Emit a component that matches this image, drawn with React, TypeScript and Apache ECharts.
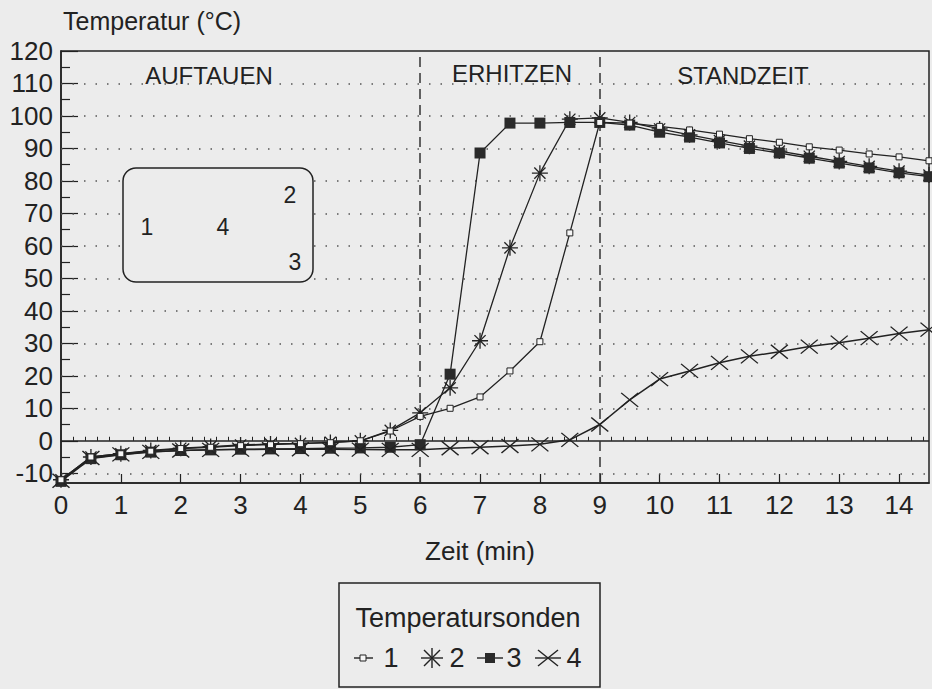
import React, { useEffect, useRef } from "react";
import * as echarts from "echarts";

const FONT = "'Liberation Sans', Arial, Helvetica, sans-serif";
const INK = "#222";
const BG = "#ececec";

const times = [0, 0.5, 1, 1.5, 2, 2.5, 3, 3.5, 4, 4.5, 5, 5.5, 6, 6.5, 7, 7.5, 8, 8.5, 9, 9.5, 10, 10.5, 11, 11.5, 12, 12.5, 13, 13.5, 14, 14.5];

const sonde1 = [-12, -5, -4, -3.2, -2.4, -2, -1.5, -1.2, -0.9, -0.6, 0, 3, 7.5, 10, 13.5, 21.5, 30.5, 64, 98, 97.8, 96.8, 95.7, 94.4, 93, 91.9, 90.5, 89.5, 88.3, 87.4, 86.2];
const sonde2 = [-12, -5, -4, -3, -2.3, -1.8, -1.3, -1, -0.8, -0.5, 0, 3.2, 8.6, 16.3, 30.8, 59.4, 82.4, 99, 99.4, 98, 96, 94.2, 92.4, 90.7, 89.2, 87.6, 86, 84.5, 83, 81.8];
const sonde3 = [-12.5, -5.5, -4.3, -3.5, -3, -2.8, -2.6, -2.5, -2.4, -2.3, -2.2, -2, -1.2, 20.5, 88.6, 97.8, 97.8, 98, 98, 97.2, 95, 93.5, 91.7, 90, 88.6, 87, 85.5, 84, 82.5, 81.3];
const sonde4 = [-12.3, -5.3, -4.2, -3.4, -3, -2.8, -2.7, -2.6, -2.6, -2.6, -2.7, -2.8, -2.8, -2.3, -2, -1.6, -1.1, 0.3, 5, 12.6, 19, 21.5, 24, 26, 27.4, 29, 30.2, 31.6, 33, 34.2];

const yLabels = [-10, 0, 10, 20, 30, 40, 50, 60, 70, 80, 90, 100, 110, 120];
const yMinor = [-5, 5, 15, 25, 35, 45, 55, 65, 75, 85, 95, 105, 115];
const xLabels = [0, 1, 2, 3, 4, 5, 6, 7, 8, 9, 10, 11, 12, 13, 14];
const dottedLevels = [-10, 10, 20, 30, 40, 50, 60, 70, 80, 90, 100, 110];
const phaseBounds = [6, 9];
const phaseNames = ["AUFTAUEN", "ERHITZEN", "STANDZEIT"];
const sensorLabels = ["1", "2", "3", "4"];

const xMinor: number[] = [];
for (let k = 1; k <= 72; k++) {
  if (k % 5 !== 0) xMinor.push(Math.round(k * 0.2 * 10) / 10);
}

const ASTER = "path://M0,5 L10,5 M5,0 L5,10 M1.5,1.5 L8.5,8.5 M8.5,1.5 L1.5,8.5";
const CROSS = "path://M0,0 L10,10 M10,0 L0,10";

export default function App() {
  const ref = useRef<HTMLDivElement>(null);
  useEffect(() => {
    document.body.style.margin = "0";
    document.body.style.background = BG;
    if (!ref.current) return;
    const chart = echarts.init(ref.current, undefined, { renderer: "svg" });
    const mk = (arr: number[]) => times.map((t, i) => [t, arr[i]]);
    const lineStyle = { color: INK, width: 1.3 };
    const markData: any[] = [
      ...dottedLevels.map((v) => ({ yAxis: v, lineStyle: { type: [1.5, 10], color: "#555", width: 1.5 } })),
      { yAxis: 0, lineStyle: { type: "solid", color: INK, width: 1.5 } },
      ...phaseBounds.map((v) => ({ xAxis: v, lineStyle: { type: [10, 6], color: "#333", width: 1.5 } })),
    ];
    const legendY = 658;
    const txt = (x: number, y: number, text: string, size: number, z = 101) => ({
      type: "text", z, x, y,
      style: { text, font: `${size}px ${FONT}`, fill: INK, align: "center", verticalAlign: "middle" },
    });
    const ln = (x1: number, y1: number, x2: number, y2: number) => ({
      type: "line", z: 101, shape: { x1, y1, x2, y2 }, style: { stroke: INK, lineWidth: 1.4 },
    });
    const g: any[] = [
      { type: "text", left: 63, top: 8, style: { text: "Temperatur (°C)", font: `25px ${FONT}`, fill: INK } },
      txt(209, 75, phaseNames[0], 24),
      txt(512, 73, phaseNames[1], 24),
      txt(743, 75, phaseNames[2], 24),
      txt(480, 551, "Zeit (min)", 26),
      { type: "rect", z: 100, shape: { x: 123, y: 168, width: 190, height: 114, r: 13 }, style: { fill: BG, stroke: INK, lineWidth: 1.5 } },
      txt(147, 227, sensorLabels[0], 23),
      txt(290, 195, sensorLabels[1], 23),
      txt(295, 262, sensorLabels[2], 23),
      txt(223, 227, sensorLabels[3], 23),
      // legend box
      { type: "rect", z: 100, shape: { x: 339, y: 583, width: 261, height: 104 }, style: { fill: BG, stroke: INK, lineWidth: 1.5 } },
      txt(468, 618, "Temperatursonden", 27),
      // item 1
      ln(354, legendY, 373, legendY),
      { type: "rect", z: 102, shape: { x: 360, y: legendY - 3, width: 6, height: 6 }, style: { fill: "#f6f6f6", stroke: INK, lineWidth: 1 } },
      txt(391, legendY, sensorLabels[0], 27),
      // item 2 asterisk
      ln(421, legendY, 443, legendY),
      ln(432, legendY - 10, 432, legendY + 10),
      ln(424, legendY - 8, 440, legendY + 8),
      ln(440, legendY - 8, 424, legendY + 8),
      txt(457, legendY, sensorLabels[1], 27),
      // item 3
      ln(477, legendY, 503, legendY),
      { type: "rect", z: 102, shape: { x: 485, y: legendY - 5, width: 10, height: 10 }, style: { fill: "#2a2a2a" } },
      txt(514, legendY, sensorLabels[2], 27),
      // item 4 cross
      ln(535, legendY, 561, legendY),
      ln(538, legendY - 8, 558, legendY + 8),
      ln(558, legendY - 8, 538, legendY + 8),
      txt(574, legendY, sensorLabels[3], 27),
    ];
    chart.setOption({
      animation: false,
      backgroundColor: BG,
      textStyle: { fontFamily: FONT },
      grid: { left: 61, right: 3, top: 51, bottom: 206, show: true, borderColor: INK, borderWidth: 1.5, backgroundColor: "transparent" },
      xAxis: [
        {
          type: "value", min: 0, max: 14.5,
          axisLine: { show: true, onZero: false, lineStyle: { color: INK, width: 1.5 } },
          axisTick: { show: true, inside: true, length: 9, customValues: xLabels, lineStyle: { color: INK, width: 1.2 } },
          axisLabel: { customValues: xLabels, fontSize: 26, color: INK, fontFamily: FONT, margin: 9 },
          splitLine: { show: false },
        },
        {
          type: "value", min: 0, max: 14.5, position: "bottom",
          axisLine: { show: false },
          axisTick: { show: true, inside: true, length: 4, customValues: xMinor, lineStyle: { color: INK, width: 1 } },
          axisLabel: { show: false },
          splitLine: { show: false },
        },
      ],
      yAxis: [
        {
          type: "value", min: -13, max: 120,
          axisLine: { show: true, onZero: false, lineStyle: { color: INK, width: 1.5 } },
          axisTick: { show: true, inside: true, length: 17, customValues: yLabels, lineStyle: { color: INK, width: 1.2 } },
          axisLabel: { customValues: yLabels, fontSize: 26, color: INK, fontFamily: FONT, margin: 8 },
          splitLine: { show: false },
        },
        {
          type: "value", min: -13, max: 120, position: "left",
          axisLine: { show: false },
          axisTick: { show: true, inside: true, length: 9, customValues: yMinor, lineStyle: { color: INK, width: 1.2 } },
          axisLabel: { show: false },
          splitLine: { show: false },
        },
      ],
      series: [
        {
          name: "1", type: "line", data: mk(sonde1), showAllSymbol: true, symbol: "rect", symbolSize: 6, z: 4,
          lineStyle, itemStyle: { color: "#f6f6f6", borderColor: INK, borderWidth: 1 },
          markLine: { silent: true, symbol: ["none", "none"], label: { show: false }, data: markData, z: 1 },
        },
        {
          name: "2", type: "line", data: mk(sonde2), showAllSymbol: true, symbol: ASTER, symbolSize: 16, z: 3,
          lineStyle, itemStyle: { color: "none", borderColor: INK, borderWidth: 1.3 },
        },
        {
          name: "3", type: "line", data: mk(sonde3), showAllSymbol: true, symbol: "rect", symbolSize: 11, z: 3,
          lineStyle, itemStyle: { color: "#2a2a2a" },
        },
        {
          name: "4", type: "line", data: mk(sonde4), showAllSymbol: true, symbol: CROSS, symbolSize: [17, 14], z: 3,
          lineStyle: { color: INK, width: 1.5 }, itemStyle: { color: "none", borderColor: INK, borderWidth: 1.3 },
        },
      ],
      graphic: g,
    });
    return () => chart.dispose();
  }, []);
  return <div ref={ref} style={{ position: "absolute", left: 0, top: 0, width: 932, height: 689, background: BG }} />;
}
